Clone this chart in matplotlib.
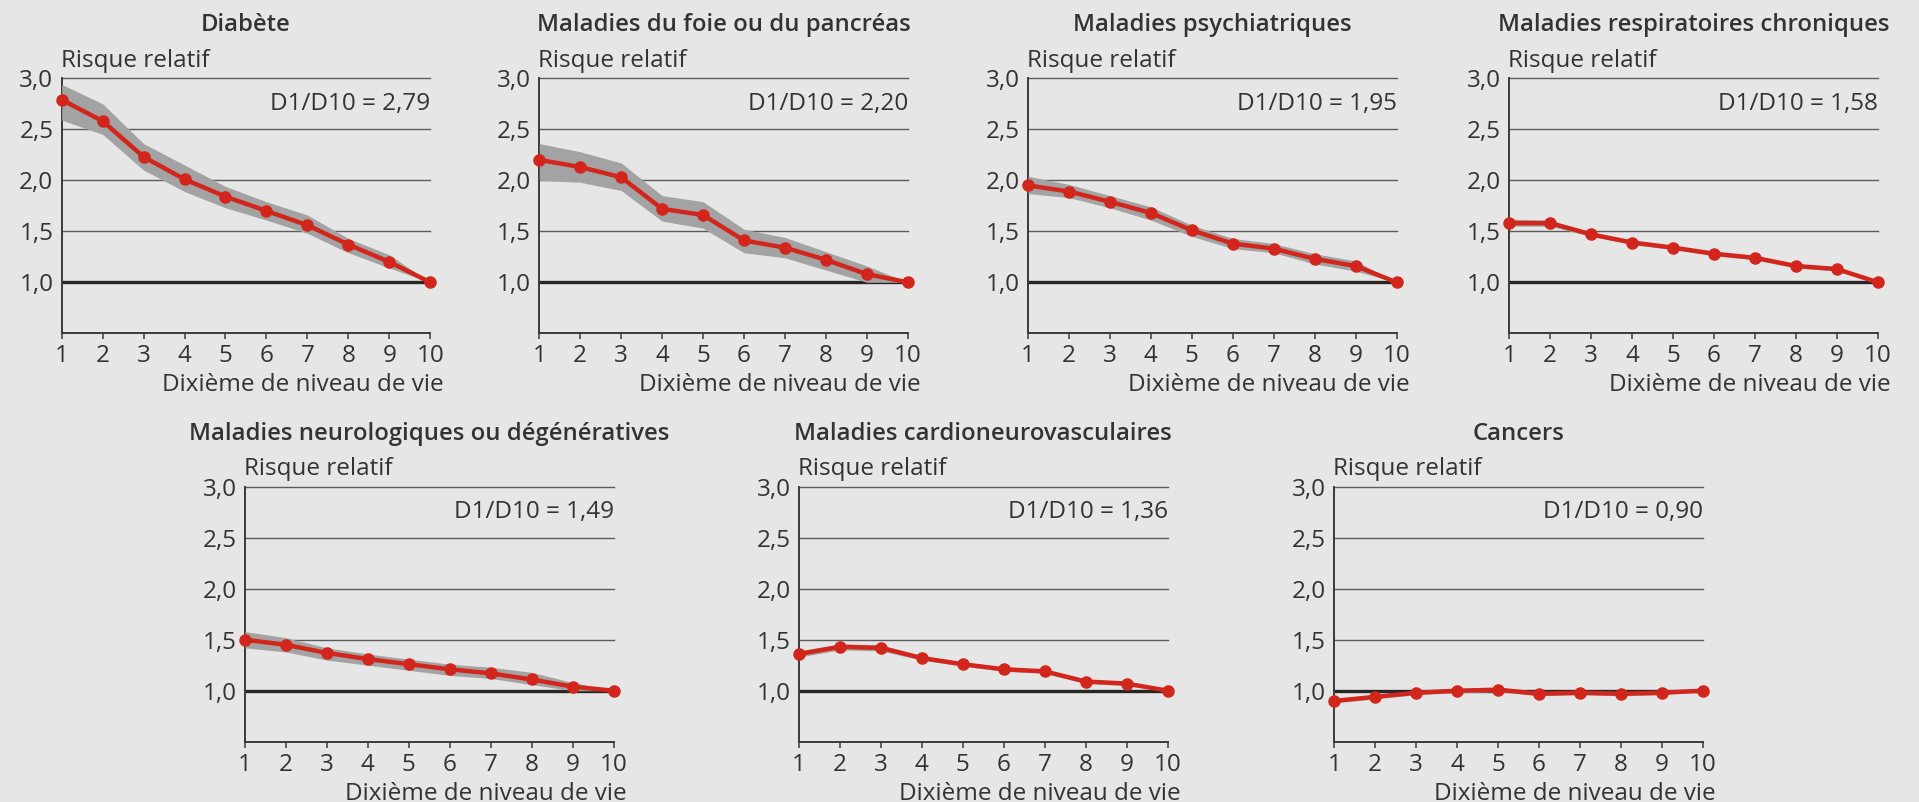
import matplotlib
matplotlib.use("Agg")
import matplotlib.pyplot as plt
from matplotlib.transforms import ScaledTranslation

plt.rcParams['font.family'] = ['Open Sans', 'DejaVu Sans']

# ---------------- data ----------------
deciles = [1, 2, 3, 4, 5, 6, 7, 8, 9, 10]
x_tick_labels = ['1', '2', '3', '4', '5', '6', '7', '8', '9', '10']
y_ticks = [1.0, 1.5, 2.0, 2.5, 3.0]
y_tick_labels = ['1,0', '1,5', '2,0', '2,5', '3,0']

titles = [
    'Diabète',
    'Maladies du foie ou du pancréas',
    'Maladies psychiatriques',
    'Maladies respiratoires chroniques',
    'Maladies neurologiques ou dégénératives',
    'Maladies cardioneurovasculaires',
    'Cancers',
]
ratios = [2.79, 2.20, 1.95, 1.58, 1.49, 1.36, 0.90]

diabete_rr = [2.79, 2.58, 2.23, 2.01, 1.84, 1.70, 1.56, 1.37, 1.20, 1.00]
diabete_lo = [2.59, 2.45, 2.10, 1.89, 1.73, 1.61, 1.48, 1.29, 1.14, 1.00]
diabete_hi = [2.94, 2.75, 2.36, 2.15, 1.94, 1.79, 1.66, 1.43, 1.27, 1.00]

foie_rr = [2.20, 2.13, 2.03, 1.72, 1.66, 1.41, 1.34, 1.22, 1.08, 1.00]
foie_lo = [2.00, 1.98, 1.90, 1.60, 1.53, 1.29, 1.24, 1.12, 1.00, 1.00]
foie_hi = [2.36, 2.28, 2.17, 1.85, 1.79, 1.52, 1.44, 1.30, 1.16, 1.00]

psy_rr = [1.95, 1.89, 1.79, 1.68, 1.51, 1.38, 1.33, 1.23, 1.16, 1.00]
psy_lo = [1.87, 1.83, 1.73, 1.61, 1.45, 1.33, 1.29, 1.18, 1.11, 1.00]
psy_hi = [2.04, 1.96, 1.85, 1.74, 1.56, 1.43, 1.38, 1.28, 1.21, 1.00]

resp_rr = [1.58, 1.58, 1.47, 1.39, 1.34, 1.28, 1.24, 1.16, 1.13, 1.00]
resp_lo = [1.55, 1.55, 1.45, 1.37, 1.32, 1.26, 1.22, 1.14, 1.11, 1.00]
resp_hi = [1.62, 1.61, 1.49, 1.41, 1.36, 1.30, 1.26, 1.18, 1.15, 1.00]

neuro_rr = [1.50, 1.45, 1.37, 1.31, 1.26, 1.21, 1.17, 1.11, 1.04, 1.00]
neuro_lo = [1.42, 1.38, 1.30, 1.25, 1.20, 1.15, 1.12, 1.06, 1.00, 1.00]
neuro_hi = [1.58, 1.52, 1.42, 1.36, 1.31, 1.26, 1.23, 1.18, 1.08, 1.00]

cardio_rr = [1.36, 1.43, 1.42, 1.32, 1.26, 1.21, 1.19, 1.09, 1.07, 1.00]
cardio_lo = [1.33, 1.40, 1.39, 1.30, 1.24, 1.19, 1.17, 1.07, 1.05, 1.00]
cardio_hi = [1.39, 1.46, 1.45, 1.34, 1.28, 1.23, 1.21, 1.11, 1.09, 1.00]

cancer_rr = [0.90, 0.94, 0.98, 1.00, 1.01, 0.97, 0.98, 0.97, 0.98, 1.00]
cancer_lo = [0.88, 0.92, 0.96, 0.98, 0.99, 0.95, 0.96, 0.95, 0.96, 1.00]
cancer_hi = [0.92, 0.96, 1.00, 1.02, 1.03, 0.99, 1.00, 0.99, 1.00, 1.00]

series = [
    (diabete_rr, diabete_lo, diabete_hi),
    (foie_rr, foie_lo, foie_hi),
    (psy_rr, psy_lo, psy_hi),
    (resp_rr, resp_lo, resp_hi),
    (neuro_rr, neuro_lo, neuro_hi),
    (cardio_rr, cardio_lo, cardio_hi),
    (cancer_rr, cancer_lo, cancer_hi),
]

# ---------------- style / layout ----------------
W, H = 1919, 802
BG = '#e6e6e6'
TXT = '#333333'
DARK = '#3a3a3a'
GRID = '#5c5c5c'
RED = '#d2261c'
BAND = '#a3a3a3'
FS = 17.5
FS_T = 17.2

AX_W, AX_H = 368.5, 255.0
panel_px = [(61.7, 78.3), (539.3, 78.3), (1028.0, 78.3), (1509.3, 78.3),
            (245.0, 486.7), (799.0, 486.7), (1334.3, 486.7)]

fig = plt.figure(figsize=(W / 100, H / 100), dpi=100, facecolor=BG)


def off(dx, dy):
    return ScaledTranslation(dx / 100, dy / 100, fig.dpi_scale_trans)


for (left, top), title, ratio, (rr, lo, hi) in zip(panel_px, titles, ratios, series):
    ax = fig.add_axes([left / W, 1 - (top + AX_H) / H, AX_W / W, AX_H / H])
    ax.set_facecolor(BG)
    ax.set_xlim(1, 10)
    ax.set_ylim(0.5, 3.0)

    for g in [1.5, 2.0, 2.5, 3.0]:
        ax.axhline(g, color=GRID, lw=1.0, zorder=1, clip_on=False)
    ax.axhline(1.0, color='#262626', lw=2.4, zorder=2)

    ax.fill_between(deciles, lo, hi, color=BAND, lw=0, zorder=3, clip_on=False)
    ax.plot(deciles, rr, color=RED, lw=3.2, marker='o', ms=8,
            zorder=4, clip_on=False)

    for s in ['top', 'right']:
        ax.spines[s].set_visible(False)
    for s in ['left', 'bottom']:
        ax.spines[s].set_color(DARK)
        ax.spines[s].set_linewidth(1.4)

    ax.set_xticks(deciles)
    ax.set_xticklabels(x_tick_labels)
    ax.set_yticks(y_ticks)
    ax.set_yticklabels(y_tick_labels)
    ax.tick_params(axis='x', length=4.5, width=1.1, color=DARK, pad=3.5,
                   labelsize=FS, labelcolor=TXT)
    ax.tick_params(axis='y', length=0, pad=6.0, labelsize=FS, labelcolor=TXT)

    ax.text(0.5, 1.0, title, transform=ax.transAxes + off(0, 47),
            ha='center', va='baseline', fontsize=FS_T, fontweight='semibold',
            color=TXT)
    ax.text(0.0, 1.0, 'Risque relatif', transform=ax.transAxes + off(-1, 11.6),
            ha='left', va='baseline', fontsize=FS, color=TXT)
    ax.text(10, 2.69, ('D1/D10 = %.2f' % ratio).replace('.', ','),
            ha='right', va='baseline', fontsize=FS, color=TXT)
    ax.text(1.0, 0.0, 'Dixième de niveau de vie',
            transform=ax.transAxes + off(13, -58),
            ha='right', va='baseline', fontsize=FS, color=TXT)

fig.savefig('out.png', dpi=100, facecolor=BG)
